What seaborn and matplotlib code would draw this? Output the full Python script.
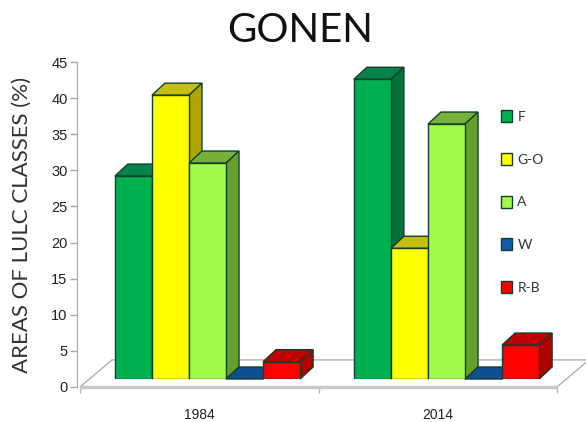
import pandas as pd
import matplotlib.pyplot as plt
import seaborn as sns
from matplotlib.patches import Polygon

years = ['1984', '2014']
classes = ['F', 'G-O', 'A', 'W', 'R-B']
values_1984 = [28.1, 39.3, 29.9, 0, 2.4]
values_2014 = [41.5, 18.1, 35.3, 0, 4.7]

front_colors = ['#00B04F', '#FFFF00', '#A3F94A', '#0F5CA8', '#FF0000']
top_colors = ['#07834A', '#C6BE12', '#78B03C', '#0F4F90', '#C00000']
side_colors = ['#04703C', '#ADA600', '#66A02C', '#0C4078', '#B00000']
edge_color = '#12402F'

W, H = 586, 422


def px_axes(fig, left, top, right, bottom):
    return fig.add_axes([left / W, 1 - bottom / H, (right - left) / W, (bottom - top) / H])


df = pd.DataFrame({
    'year': [y for y in years for _ in classes],
    'cls': classes * 2,
    'value': values_1984 + values_2014,
})

sns.set_style('white')
plt.rcParams['font.family'] = ['Liberation Sans', 'DejaVu Sans']
fig = plt.figure(figsize=(W / 100, H / 100), dpi=100, facecolor='white')

# axis with the scale and the floor, bars sit on a second axis shifted back
ax_scale = px_axes(fig, 80, 62, 557, 387)
ax_scale.set_xlim(-0.5, 1.5)
ax_scale.set_ylim(0, 45)
ax_scale.set_yticks(range(0, 46, 5))
ax_scale.set_xticks([0, 1], years)
ax_scale.set_xticks([-0.5, 0.5, 1.5], minor=True)
ax_scale.tick_params(axis='y', labelsize=10.5, length=5, width=1, color='#a8a8a8', labelcolor='#222222', pad=2, left=True)
ax_scale.tick_params(axis='x', which='major', labelsize=10, length=0, labelcolor='#222222', pad=15)
ax_scale.tick_params(axis='x', which='minor', length=4, width=1, color='#b8b8b8', bottom=True)
for s in ['top', 'right', 'bottom']:
    ax_scale.spines[s].set_visible(False)
ax_scale.spines['left'].set_color('#a8a8a8')
ax_scale.spines['left'].set_position(('outward', 2))
ax_scale.set_ylabel('AREAS OF LULC CLASSES (%)', fontsize=16, family='Lato', color='#333333', labelpad=14, y=0.5)

floor_dx, floor_dy = 0.134, 3.75
ax_scale.add_patch(Polygon([(-0.5, 0), (-0.5 + floor_dx, floor_dy), (1.5 + floor_dx, floor_dy), (1.5, 0)],
                           closed=True, facecolor='white', edgecolor='#b0b0b0', lw=1, clip_on=False))
ax_scale.plot([-0.5, 1.5], [0, 0], color='#c8c8c8', lw=2.5, clip_on=False, solid_capstyle='butt')

ax = px_axes(fig, 88, 54, 566, 379)
ax.patch.set_visible(False)
sns.barplot(data=df, x='year', y='value', hue='cls', hue_order=classes, order=years,
            palette=front_colors, width=0.775, gap=0, saturation=1,
            edgecolor=edge_color, linewidth=1, ax=ax)
ax.set_xlim(-0.5, 1.5)
ax.set_ylim(0, 45)

# fake 3D depth taken from each bar's own geometry
depth_x, depth_y = 13 / 239, 12 / 7.22
bars = [(bar, k) for k, cont in enumerate(ax.containers) for bar in cont]
bars.sort(key=lambda b: b[0].get_x())
for i, (bar, k) in enumerate(bars):
    x0, x1 = bar.get_x(), bar.get_x() + bar.get_width()
    h = bar.get_height()
    top = Polygon([(x0, h), (x0 + depth_x, h + depth_y), (x1 + depth_x, h + depth_y), (x1, h)],
                  closed=True, facecolor=top_colors[k], edgecolor=edge_color, lw=1, zorder=3 + i * 3, clip_on=False)
    side = Polygon([(x1, 0), (x1, h), (x1 + depth_x, h + depth_y), (x1 + depth_x, depth_y)],
                   closed=True, facecolor=side_colors[k], edgecolor=edge_color, lw=1, zorder=4 + i * 3, clip_on=False)
    ax.add_patch(top)
    ax.add_patch(side)
    bar.set_zorder(5 + i * 3)

ax.axis('off')
ax.legend(loc='upper left', bbox_to_anchor=(501 / W, 1 - 110 / H), bbox_transform=fig.transFigure,
          frameon=False, borderpad=0, borderaxespad=0, prop={'family': 'Lato', 'size': 10},
          handlelength=0.78, handleheight=0.95, handletextpad=0.4, labelspacing=2.16, labelcolor='#333333')

fig.text(300 / W, 1 - 30 / H, 'GONEN', fontsize=29, family='Lato', color='#111111', ha='center', va='center')

fig.savefig('out.png', dpi=100)
